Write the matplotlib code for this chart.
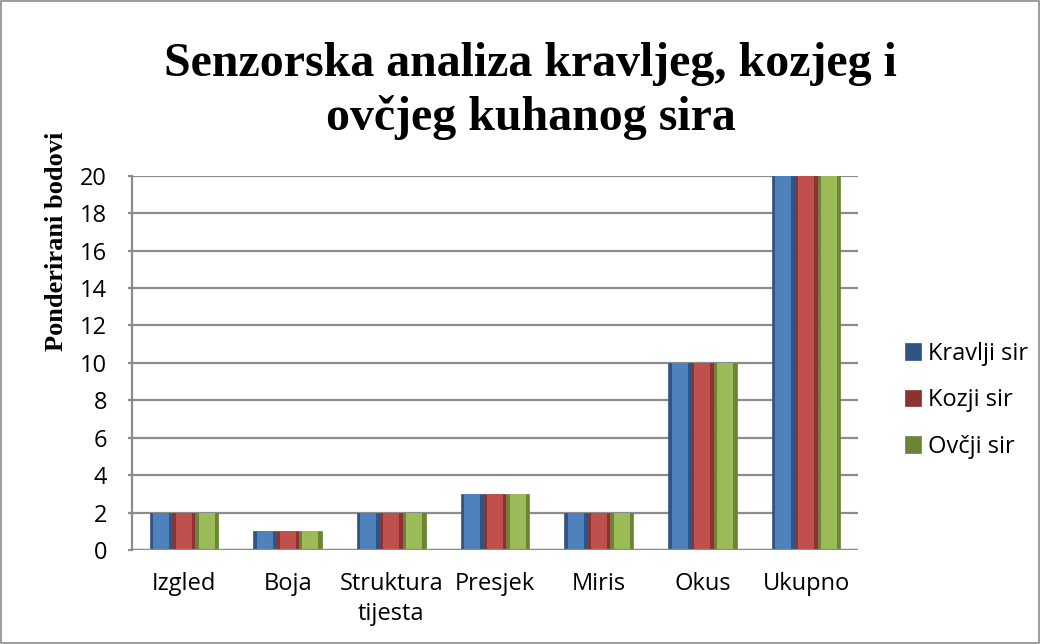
import numpy as np
import matplotlib.pyplot as plt
from matplotlib.patches import Rectangle

kategorije = ["Izgled", "Boja", "Struktura\ntijesta", "Presjek", "Miris", "Okus", "Ukupno"]
kravlji = [2, 1, 2, 3, 2, 10, 20]
kozji = [2, 1, 2, 3, 2, 10, 20]
ovcji = [2, 1, 2, 3, 2, 10, 20]
serije = ["Kravlji sir", "Kozji sir", "Ovčji sir"]
boje = ["#4F81BD", "#C0504D", "#9BBB59"]
tamne = ["#2F5585", "#8A3331", "#6A8535"]

fig = plt.figure(figsize=(10.41, 6.44), dpi=100)
ax = fig.add_axes([0.1268, 0.146, 0.6974, 0.581])

x = np.arange(len(kategorije))
w = 0.22
for i, (vals, c, d) in enumerate(zip([kravlji, kozji, ovcji], boje, tamne)):
    pos = x + (i - 1) * w
    ax.bar(pos, vals, w, color=d, edgecolor=d, linewidth=0.5, zorder=3, label=serije[i])
    ax.bar(pos, vals, w * 0.7, color=c, linewidth=0, zorder=4)

ax.set_xlim(-0.5, len(kategorije) - 0.5)
ax.set_ylim(0, 20)
ax.set_yticks(range(0, 21, 2))
ax.yaxis.grid(True, color="#8c8c8c", linewidth=1.6, zorder=0)
ax.set_xticks(x)
ax.set_xticklabels(kategorije, fontsize=17, family="Open Sans", linespacing=1.35)
for t in ax.get_yticklabels():
    t.set_fontsize(17)
    t.set_family("Open Sans")
ax.tick_params(axis="x", length=0, pad=16)
ax.tick_params(axis="y", length=3, color="#8c8c8c", width=1.6, pad=15)
for s in ["top", "right", "bottom"]:
    ax.spines[s].set_visible(False)
ax.spines["left"].set_color("#8c8c8c")
ax.spines["left"].set_linewidth(1.6)
ax.axhline(0, color="#8c8c8c", linewidth=1.6, zorder=5)

ax.set_ylabel("Ponderirani bodovi", family="Liberation Serif", fontweight="bold",
              fontsize=19)
ax.yaxis.set_label_coords(-0.088, 0.826)

fig.text(0.51, 0.935, "Senzorska analiza kravljeg, kozjeg i\novčjeg kuhanog sira",
         family="Liberation Serif", fontweight="bold", fontsize=34.5,
         ha="center", va="top", linespacing=1.27)

leg = ax.legend(loc="center left", bbox_to_anchor=(1.035, 0.40), frameon=False,
                prop={"family": "Open Sans", "size": 17}, handlelength=0.7,
                handleheight=0.7, labelspacing=0.95, handletextpad=0.3)

fig.patches.append(Rectangle((0.001, 0.001), 0.997, 0.997, transform=fig.transFigure,
                             fill=False, edgecolor="#8c8c8c", linewidth=1.2))

fig.savefig("out.png", dpi=100)
